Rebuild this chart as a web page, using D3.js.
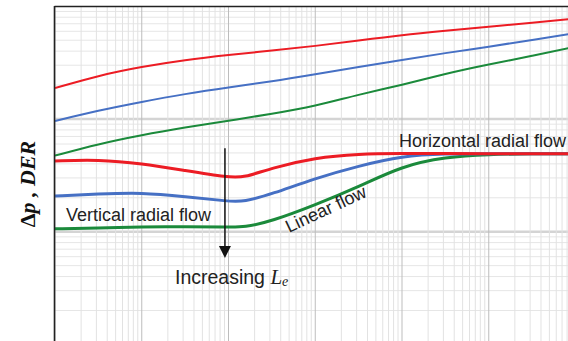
<!DOCTYPE html>
<html>
<head>
	<script src="https://d3js.org/d3.v7.min.js"></script>
	<title></title>
	<style type="text/css">
		body { margin: 0; background: #ffffff; }
		#chart { width: 568px; height: 341px; }
		.curve { fill: none; }
	</style>
</head>
<body>

	<div id="chart"></div>

	<script type="text/javascript">

		// time values (log axis) and the curves
		var pTime   = [1, 3.16, 10, 31.6, 100, 316, 1000, 3162, 10000, 31623, 100000, 316228, 1000000];
		var pRed    = [188, 243, 291, 334, 370, 405, 444, 497, 556, 606, 659, 715, 779];
		var pBlue   = [96, 119, 142, 167, 191, 215, 249, 289, 334, 385, 438, 502, 580];
		var pGreen  = [47.3, 60.0, 72.1, 84.1, 96.6, 111, 130, 165, 200, 253, 306, 362, 438];

		var dTime   = [1, 3.16, 10, 31.6, 100, 150, 316, 1000, 3162, 10000, 31623, 100000, 316228, 1000000];
		var dRed    = [42.4, 43.7, 40.3, 34.9, 30.3, 30.1, 36.8, 45.4, 48.9, 49.4, 49.3, 49.2, 49.2, 49.2];
		var dBlue   = [20.7, 21.6, 22.3, 20.5, 18.6, 18.4, 21.6, 29.8, 38.3, 47.0, 49.2, 49.2, 49.2, 49.2];
		var dGreen  = [10.6, 10.8, 11.0, 11.1, 11.0, 10.9, 12.4, 17.3, 25.0, 38.3, 46.0, 48.6, 49.2, 49.2];

		var colors = {red: "#ec1c24", blue: "#4670c4", green: "#1b8a3b"};

		var width = 568, height = 341;

		var svg = d3.select("#chart")
		  .append("svg")
		  .attr("width", width)
		  .attr("height", height)
		  .style("background-color", "#ffffff")
		  .style("display", "block");

		var xscale = d3.scaleLog().domain([1, 1e6]).range([55, 575.5]);
		var yscale = d3.scaleLog().domain([1, 1000]).range([344.4, 6.3]);

		svg.append("clipPath").attr("id", "plot")
		  .append("rect").attr("x", 55).attr("y", 6.3).attr("width", width - 55).attr("height", height);

		var plot = svg.append("g").attr("clip-path", "url(#plot)");

		// log grid
		var xt = [], yt = [];
		for (var d = 0; d < 6; d++) for (var k = 1; k < 10; k++) xt.push(k * Math.pow(10, d));
		for (var d = 0; d < 3; d++) for (var k = 1; k < 10; k++) yt.push(k * Math.pow(10, d));

		function major(v) { return Math.abs(Math.log10(v) - Math.round(Math.log10(v))) < 1e-9; }

		plot.selectAll(".hgrid").data(yt).enter().append("line")
		  .attr("x1", 55).attr("x2", width)
		  .attr("y1", function(v){ return yscale(v) }).attr("y2", function(v){ return yscale(v) })
		  .attr("stroke", function(v){ return major(v) ? "#d4d4d4" : "#e6e6e6" })
		  .attr("stroke-width", function(v){ return major(v) ? 2.5 : 1 });

		plot.selectAll(".vgrid").data(xt).enter().append("line")
		  .attr("y1", 0).attr("y2", height)
		  .attr("x1", function(v){ return xscale(v) }).attr("x2", function(v){ return xscale(v) })
		  .attr("stroke", function(v){ return major(v) ? "#bdbdbd" : "#e2e2e2" })
		  .attr("stroke-width", 1);

		var line = d3.line()
		  .x(function(d){ return xscale(d[0]) })
		  .y(function(d){ return yscale(d[1]) })
		  .curve(d3.curveBasis);

		function draw(times, vals, color, w) {
			plot.append("path")
			  .datum(times.map(function(t, i){ return [t, vals[i]] }))
			  .attr("class", "curve")
			  .attr("d", line)
			  .attr("stroke", color)
			  .attr("stroke-width", w);
		}

		draw(pTime, pGreen, colors.green, 2);
		draw(pTime, pBlue, colors.blue, 2);
		draw(pTime, pRed, colors.red, 2);
		draw(dTime, dGreen, colors.green, 3);
		draw(dTime, dBlue, colors.blue, 3);
		draw(dTime, dRed, colors.red, 3);

		// frame
		svg.append("line").attr("x1", 54.5).attr("x2", width).attr("y1", 6.5).attr("y2", 6.5)
		  .attr("stroke", "#222").attr("stroke-width", 1.6);
		svg.append("line").attr("x1", 54.5).attr("x2", 54.5).attr("y1", 6).attr("y2", height)
		  .attr("stroke", "#222").attr("stroke-width", 1.6);

		// arrow
		var arrowT = 91, arrowFrom = 55, arrowTo = 5.85;
		svg.append("line")
		  .attr("x1", xscale(arrowT)).attr("x2", xscale(arrowT))
		  .attr("y1", yscale(arrowFrom)).attr("y2", yscale(arrowTo) - 10)
		  .attr("stroke", "#111").attr("stroke-width", 1.5);
		svg.append("path")
		  .attr("d", "M" + (xscale(arrowT) - 6) + "," + (yscale(arrowTo) - 12) +
		             "L" + (xscale(arrowT) + 6) + "," + (yscale(arrowTo) - 12) +
		             "L" + xscale(arrowT) + "," + yscale(arrowTo) + "Z")
		  .attr("fill", "#111");

		// labels
		var font = "Liberation Sans, Arial, sans-serif";
		svg.append("text").attr("x", 66).attr("y", 220.7)
		  .style("font-family", font).style("font-size", "18px").attr("fill", "#222")
		  .text("Vertical radial flow");
		svg.append("text").attr("x", 399).attr("y", 146.7)
		  .style("font-family", font).style("font-size", "18px").attr("fill", "#222")
		  .text("Horizontal radial flow");
		svg.append("text").attr("transform", "translate(289,233) rotate(-25)")
		  .style("font-family", font).style("font-size", "18px").attr("fill", "#222")
		  .text("Linear flow");

		var inc = svg.append("text").attr("x", 175).attr("y", 284.3)
		  .style("font-family", font).style("font-size", "19.5px").attr("fill", "#222");
		inc.append("tspan").text("Increasing ");
		inc.append("tspan").style("font-family", "Liberation Serif, Times New Roman, serif")
		  .style("font-style", "italic").style("font-size", "21px").text("L");
		inc.append("tspan").style("font-family", "Liberation Serif, Times New Roman, serif")
		  .style("font-style", "italic").style("font-size", "14px").attr("dy", 2).text("e");

		var yl = svg.append("text").attr("transform", "translate(35,184) rotate(-90)")
		  .attr("text-anchor", "middle")
		  .style("font-family", "Liberation Serif, Times New Roman, serif")
		  .style("font-weight", "bold").style("font-size", "22px").attr("fill", "#111");
		yl.append("tspan").text("Δ");
		yl.append("tspan").style("font-style", "italic").text("p");
		yl.append("tspan").style("font-style", "italic").text(" , DER");

	</script>

</body>
</html>
